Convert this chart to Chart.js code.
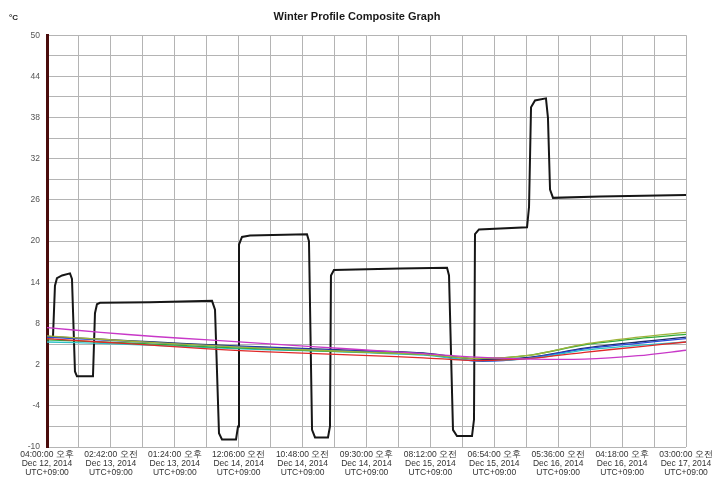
<!DOCTYPE html>
<html>
<head>
<meta charset="utf-8">
<script src="https://cdn.jsdelivr.net/npm/chart.js@4"></script>
<style>
  html, body { margin: 0; padding: 0; background: #fff; }
  #wrap { width: 714px; height: 481px; }
</style>
</head>
<body>
<div id="wrap"><canvas id="lineChart"></canvas></div>
<script>
// x values are minutes since 04:00:00 PM Dec 12, 2014
var tickLabels = [
  ['04:00:00 오후', 'Dec 12, 2014', 'UTC+09:00'],
  ['02:42:00 오전', 'Dec 13, 2014', 'UTC+09:00'],
  ['01:24:00 오후', 'Dec 13, 2014', 'UTC+09:00'],
  ['12:06:00 오전', 'Dec 14, 2014', 'UTC+09:00'],
  ['10:48:00 오전', 'Dec 14, 2014', 'UTC+09:00'],
  ['09:30:00 오후', 'Dec 14, 2014', 'UTC+09:00'],
  ['08:12:00 오전', 'Dec 15, 2014', 'UTC+09:00'],
  ['06:54:00 오후', 'Dec 15, 2014', 'UTC+09:00'],
  ['05:36:00 오전', 'Dec 16, 2014', 'UTC+09:00'],
  ['04:18:00 오후', 'Dec 16, 2014', 'UTC+09:00'],
  ['03:00:00 오전', 'Dec 17, 2014', 'UTC+09:00']
];

// chamber air (black trace)
var airMinutes = [10, 60, 80, 100, 151, 231, 251, 281, 301, 462, 482, 502, 532, 1035, 1658, 1688, 1728, 1758, 1899, 1919, 1929, 1959, 2040, 2612, 2632, 2663, 2693, 2823, 2843, 2853, 2883, 3547, 4019, 4039, 4079, 4119, 4270, 4290, 4300, 4340, 4823, 4843, 4863, 4903, 5013, 5033, 5054, 5084, 5556, 6420];
var airTemp = [6.0, 6.0, 13.5, 14.6, 15.0, 15.3, 14.5, 1.0, 0.3, 0.3, 9.5, 10.8, 11.0, 11.1, 11.3, 10.0, -8.0, -8.9, -8.9, -7.0, 19.5, 20.6, 20.8, 21.0, 20.0, -7.5, -8.6, -8.6, -7.0, 15.0, 15.8, 16.0, 16.1, 15.0, -7.5, -8.4, -8.4, -6.0, 21.0, 21.7, 22.0, 25.0, 39.5, 40.5, 40.8, 38.0, 27.5, 26.3, 26.5, 26.7];

// product probes
var probeMinutes = [0, 540, 1080, 1620, 2160, 2700, 3240, 3780, 4320, 4860, 5400, 5940, 6420];
var probeMagenta = [7.4, 6.7, 6.1, 5.6, 5.1, 4.6, 4.1, 3.6, 3.1, 2.8, 2.8, 3.3, 4.1];
var probeRed     = [5.8, 5.3, 4.8, 4.3, 3.9, 3.6, 3.3, 3.0, 2.6, 2.9, 3.8, 4.6, 5.3];
var probeBlue    = [6.0, 5.6, 5.2, 4.8, 4.5, 4.2, 3.9, 3.6, 2.5, 3.0, 4.3, 5.1, 5.8];
var probeNavy    = [6.1, 5.7, 5.3, 4.9, 4.6, 4.3, 4.0, 3.7, 2.8, 3.1, 4.4, 5.3, 6.0];
var probeGreen   = [5.6, 5.3, 5.0, 4.6, 4.3, 4.0, 3.8, 3.5, 2.9, 3.4, 4.9, 5.8, 6.4];
var probeCyan    = [5.3, 5.1, 4.8, 4.5, 4.2, 4.0, 3.7, 3.4, 2.6, 2.9, 4.1, 4.8, 5.3];
var probeOlive   = [6.2, 5.7, 5.2, 4.8, 4.4, 4.1, 3.8, 3.5, 2.9, 3.4, 5.0, 6.0, 6.7];

function pts(xs, ys) {
  return xs.map(function (x, i) { return { x: x, y: ys[i] }; });
}

function probe(values, color) {
  return {
    data: pts(probeMinutes, values),
    borderColor: color,
    borderWidth: 1.3,
    pointRadius: 0,
    tension: 0.3
  };
}

var unitLabel = {
  id: 'unitLabel',
  afterDraw: function (chart) {
    var c = chart.ctx;
    c.save();
    c.font = 'bold 8px Arial, "Liberation Sans", sans-serif';
    c.fillStyle = '#222';
    c.textBaseline = 'middle';
    c.fillText('°C', 9, 18);
    c.restore();
  }
};

var ctx = document.getElementById('lineChart').getContext('2d');
var myChart = new Chart(ctx, {
  type: 'line',
  data: {
    datasets: [
      probe(probeMagenta, '#c838c8'),
      probe(probeRed, '#e02828'),
      probe(probeOlive, '#9fb33a'),
      probe(probeGreen, '#2faa3a'),
      probe(probeCyan, '#2cc0c8'),
      probe(probeBlue, '#2a4ad8'),
      probe(probeNavy, '#1c2a6a'),
      {
        data: pts(airMinutes, airTemp),
        borderColor: '#161616',
        borderWidth: 2,
        pointRadius: 0,
        tension: 0
      }
    ]
  },
  options: {
    responsive: true,
    maintainAspectRatio: false,
    animation: false,
    layout: { padding: { left: 0, right: 0, top: 0, bottom: 0 } },
    plugins: {
      legend: { display: false },
      tooltip: { enabled: false },
      title: {
        display: true,
        text: 'Winter Profile Composite Graph',
        color: '#1a1a1a',
        font: { family: 'Arial, "Liberation Sans", sans-serif', size: 11, weight: 'bold' },
        padding: { top: 10, bottom: 12 }
      }
    },
    scales: {
      x: {
        type: 'linear',
        min: 0,
        max: 6420,
        grid: { color: '#b4b4b4', lineWidth: 1, drawTicks: false },
        border: { display: false },
        ticks: {
          stepSize: 321,
          autoSkip: false,
          maxRotation: 0,
          padding: 3,
          color: '#333',
          font: { family: 'Arial, "Liberation Sans", sans-serif', size: 8.5, lineHeight: 1.08 },
          callback: function (v) {
            return v % 642 === 0 ? tickLabels[v / 642] : '';
          }
        },
        afterFit: function (s) {
          s.height = 34;
          s.paddingLeft = 0;
          s.paddingRight = 28;
        }
      },
      y: {
        min: -10,
        max: 50,
        grid: { color: '#b4b4b4', lineWidth: 1, drawTicks: false },
        border: { color: '#4a0c0c', width: 3 },
        ticks: {
          stepSize: 3,
          padding: 7,
          color: '#555',
          font: { family: 'Arial, "Liberation Sans", sans-serif', size: 8.5 },
          callback: function (v) {
            return (v + 10) % 6 === 0 ? v : '';
          }
        },
        afterFit: function (s) { s.width = 47; }
      }
    }
  },
  plugins: [unitLabel]
});
</script>
</body>
</html>
